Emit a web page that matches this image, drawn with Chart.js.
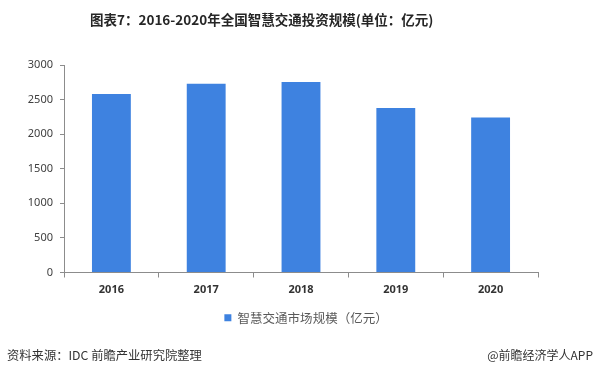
<!DOCTYPE html>
<html>
<head>
<meta charset="utf-8">
<script src="https://cdn.jsdelivr.net/npm/chart.js@4"></script>
<style>
  body { margin: 0; background: #fff; }
  #wrap { position: relative; width: 600px; height: 375px; font-family: "Noto Sans CJK SC", "Noto Sans", sans-serif; }
  #title { position: absolute; left: 90px; top: 9px; font-size: 13.5px; font-weight: bold; color: #262626; white-space: nowrap; }
  #source { position: absolute; left: 7px; top: 346px; font-size: 12.3px; color: #333; }
  #brand { position: absolute; right: 7px; top: 346px; font-size: 12px; color: #333; }
  canvas { position: absolute; left: 0; top: 0; }
</style>
</head>
<body>
<div id="wrap">
  <canvas id="chart" width="600" height="375"></canvas>
  <div id="title">图表7：2016-2020年全国智慧交通投资规模(单位：亿元)</div>
  <div id="source">资料来源：IDC 前瞻产业研究院整理</div>
  <div id="brand">@前瞻经济学人APP</div>
</div>
<script>
// 年份和投资规模（亿元）
const years = ['2016', '2017', '2018', '2019', '2020'];
const marketSize = [2580, 2730, 2755, 2380, 2240];
const seriesName = '智慧交通市场规模（亿元）';
const yTicks = [0, 500, 1000, 1500, 2000, 2500, 3000];

const barColor = 'rgb(62, 130, 224)';
const axisColor = '#8c8c8c';

const ctx = document.getElementById('chart').getContext('2d');
new Chart(ctx, {
    type: 'bar',
    data: {
        labels: years,
        datasets: [{
            label: seriesName,
            data: marketSize,
            backgroundColor: barColor,
            borderWidth: 0,
            categoryPercentage: 1,
            barPercentage: 0.41
        }]
    },
    options: {
        responsive: false,
        animation: false,
        layout: { padding: { left: 12, right: 0, top: 65, bottom: 41 } },
        plugins: {
            title: { display: false },
            tooltip: { enabled: false },
            legend: {
                position: 'bottom',
                labels: {
                    boxWidth: 7,
                    boxHeight: 7,
                    padding: 15,
                    color: '#595959',
                    font: { size: 12.5, family: '"Noto Sans CJK SC", sans-serif' }
                }
            }
        },
        scales: {
            x: {
                grid: { drawOnChartArea: false, drawTicks: true, tickLength: 5, offset: true, color: axisColor },
                border: { color: axisColor },
                ticks: { color: '#333', padding: 6, font: { size: 11, weight: 'bold', family: '"Noto Sans", sans-serif' } },
                afterFit: (scale) => { scale.height = 24; }
            },
            y: {
                min: 0,
                max: 3000,
                afterBuildTicks: (scale) => { scale.ticks = yTicks.map(v => ({ value: v })); },
                grid: { drawOnChartArea: false, drawTicks: true, tickLength: 4, color: axisColor },
                border: { color: axisColor },
                ticks: {
                    color: '#404040',
                    padding: 7,
                    font: { size: 11, family: '"Noto Sans", sans-serif' },
                    callback: (v) => String(v)
                },
                afterFit: (scale) => { scale.width = 52; }
            },
            // axe vide à droite pour garder la marge
            yRight: {
                position: 'right',
                display: true,
                grid: { display: false },
                border: { display: false },
                ticks: { display: false },
                afterFit: (scale) => { scale.width = 62; }
            }
        }
    }
});
</script>
</body>
</html>
